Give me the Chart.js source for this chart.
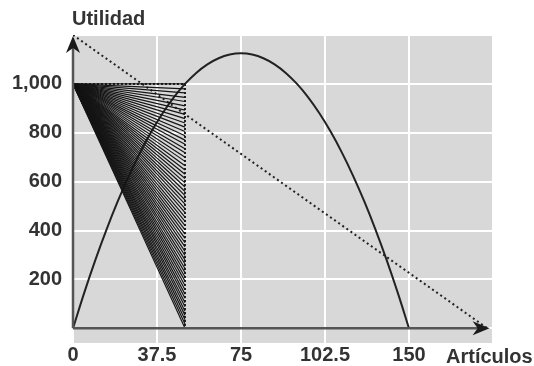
<!DOCTYPE html>
<html>
<head>
<meta charset="utf-8">
<script src="https://cdn.jsdelivr.net/npm/chart.js@4/dist/chart.umd.min.js"></script>
<style>
  html, body { margin: 0; padding: 0; background: #ffffff; }
  #wrap { width: 534px; height: 366px; }
</style>
</head>
<body>
<div id="wrap"><canvas id="c" width="534" height="366"></canvas></div>
<script>
// Axis ticks and their printed labels
const xTicks = [0, 37.5, 75, 112.5, 150, 187.5];
const xTickLabels = ['0', '37.5', '75', '102.5', '150', ''];
const yTicks = [0, 200, 400, 600, 800, 1000, 1200];
const yTickLabels = ['', '200', '400', '600', '800', '1,000', ''];

// Profit curve (artículos vs. utilidad)
const curveX = [0, 5, 10, 15, 20, 25, 30, 35, 40, 45, 50, 55, 60, 65, 70, 75,
                80, 85, 90, 95, 100, 105, 110, 115, 120, 125, 130, 135, 140, 145, 150];
const curveY = [0, 145, 280, 405, 520, 625, 720, 805, 880, 945, 1000, 1045, 1080, 1105, 1120, 1125,
                1120, 1105, 1080, 1045, 1000, 945, 880, 805, 720, 625, 520, 405, 280, 145, 0];

// Straight dotted line across the plot
const diagX = [0, 185];
const diagY = [1200, 0];

// Dotted box edges at utilidad 1,000 and 50 artículos
const boxX = [0, 50, 50];
const boxY = [1000, 1000, 0];

// Fan of segments from (0, 1000) to points on x = 50
const fanStartX = 0;
const fanStartY = 1000;
const fanEndX = 50;
const fanEndY = [0, 18, 35, 53, 70, 88, 105, 123, 140, 158, 175, 193, 210, 228, 245, 263,
                 280, 298, 315, 333, 350, 368, 385, 403, 420, 438, 455, 473, 490, 508, 525,
                 543, 560, 578, 595, 613, 630, 648, 665, 683, 700, 718, 735, 753, 770, 788,
                 805, 823, 840, 858, 875, 893, 910, 928, 945, 963, 980, 1000];

const axisTipX = 186;
const axisTipY = 1196;

const ink = '#222222';
const tickFont = { family: '"Liberation Sans", Arial, sans-serif', size: 20, weight: 'bold' };

const datasets = [];
fanEndY.forEach(function (y) {
  datasets.push({
    data: [{ x: fanStartX, y: fanStartY }, { x: fanEndX, y: y }],
    borderColor: '#151515', borderWidth: 1.2, showLine: true,
    pointRadius: 0, tension: 0
  });
});
datasets.push({
  data: boxX.map((x, i) => ({ x: x, y: boxY[i] })),
  borderColor: ink, borderWidth: 2, borderDash: [2, 2], showLine: true,
  pointRadius: 0, tension: 0
});
datasets.push({
  data: diagX.map((x, i) => ({ x: x, y: diagY[i] })),
  borderColor: ink, borderWidth: 2, borderDash: [2, 3], showLine: true,
  pointRadius: 0, tension: 0
});
datasets.push({
  data: curveX.map((x, i) => ({ x: x, y: curveY[i] })),
  borderColor: ink, borderWidth: 2, showLine: true,
  pointRadius: 0, tension: 0.3
});

// Gray plot background
const plotBackground = {
  id: 'plotBackground',
  beforeDraw(chart) {
    const { ctx, chartArea: a } = chart;
    ctx.save();
    ctx.fillStyle = '#d8d8d8';
    ctx.fillRect(a.left, a.top, a.right - a.left, a.bottom - a.top);
    ctx.restore();
  }
};

// Axis lines with arrowheads plus the axis titles
const axesArrows = {
  id: 'axesArrows',
  afterDatasetsDraw(chart) {
    const { ctx, scales: { x, y } } = chart;
    const x0 = x.getPixelForValue(0), y0 = y.getPixelForValue(0);
    const xt = x.getPixelForValue(axisTipX), yt = y.getPixelForValue(axisTipY);
    ctx.save();
    ctx.strokeStyle = '#555555';
    ctx.lineWidth = 2.5;
    ctx.beginPath();
    ctx.moveTo(x0, y0); ctx.lineTo(xt - 10, y0);
    ctx.moveTo(x0, y0); ctx.lineTo(x0, yt + 10);
    ctx.stroke();
    ctx.fillStyle = '#1a1a1a';
    ctx.beginPath();
    ctx.moveTo(xt, y0); ctx.lineTo(xt - 17, y0 - 7); ctx.lineTo(xt - 12, y0); ctx.lineTo(xt - 17, y0 + 7);
    ctx.closePath(); ctx.fill();
    ctx.beginPath();
    ctx.moveTo(x0, yt); ctx.lineTo(x0 - 7, yt + 17); ctx.lineTo(x0, yt + 12); ctx.lineTo(x0 + 7, yt + 17);
    ctx.closePath(); ctx.fill();

    ctx.fillStyle = '#333333';
    ctx.font = 'bold 20px "Liberation Sans", Arial, sans-serif';
    ctx.textBaseline = 'middle';
    ctx.textAlign = 'left';
    ctx.fillText('Utilidad', 72, 19);
    ctx.fillText('Artículos', 446, 357);
    ctx.restore();
  }
};

new Chart(document.getElementById('c'), {
  type: 'scatter',
  data: { datasets: datasets },
  options: {
    responsive: false,
    animation: false,
    events: [],
    layout: { padding: { top: 35, right: 41, left: 0, bottom: 0 } },
    plugins: { legend: { display: false }, tooltip: { enabled: false } },
    scales: {
      x: {
        type: 'linear', min: 0, max: 187.5,
        afterBuildTicks(s) { s.ticks = xTicks.map(v => ({ value: v })); },
        afterFit(s) { s.height = 18; },
        ticks: {
          autoSkip: false, maxRotation: 0, padding: 0,
          color: '#333333', font: tickFont,
          callback: (v, i) => xTickLabels[i]
        },
        grid: { color: '#ffffff', lineWidth: 2, drawTicks: false },
        border: { display: false }
      },
      y: {
        type: 'linear', min: -60, max: 1200,
        afterBuildTicks(s) { s.ticks = yTicks.map(v => ({ value: v })); },
        afterFit(s) { s.width = 73; },
        ticks: {
          autoSkip: false, padding: 11,
          color: '#333333', font: tickFont,
          callback: (v, i) => yTickLabels[i]
        },
        grid: { color: '#ffffff', lineWidth: 2, drawTicks: false },
        border: { display: false }
      }
    }
  },
  plugins: [plotBackground, axesArrows]
});
</script>
</body>
</html>
